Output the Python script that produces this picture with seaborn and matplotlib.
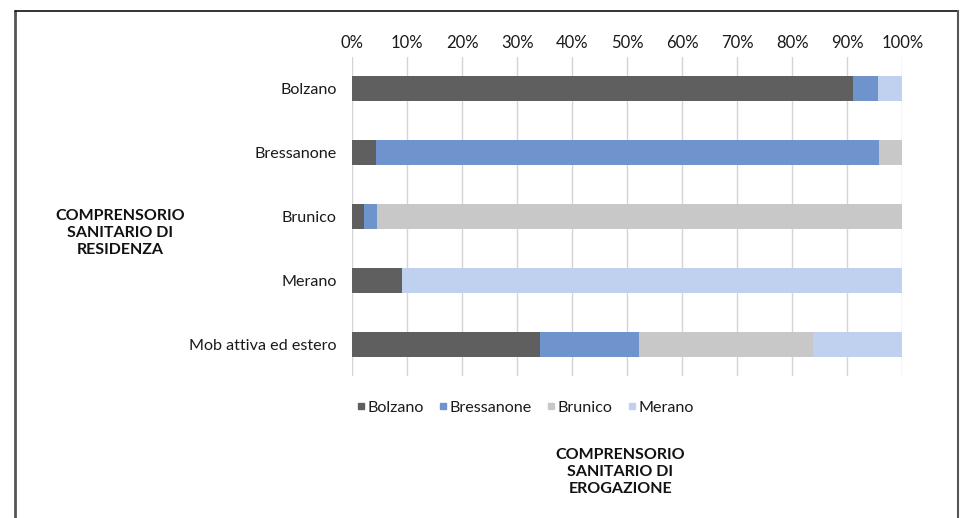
import numpy as np
import pandas as pd
import matplotlib
matplotlib.use("Agg")
import matplotlib.pyplot as plt
from matplotlib.lines import Line2D
import seaborn as sns

# Residence districts (rows) and delivery districts (stacked series), shares in %
residenza = ["Bolzano", "Bressanone", "Brunico", "Merano", "Mob attiva ed estero"]
erogazione = ["Bolzano", "Bressanone", "Brunico", "Merano"]
bolzano = [91.1, 4.4, 2.2, 9.0, 34.1]
bressanone = [4.5, 91.3, 2.3, 0.0, 18.1]
brunico = [0.0, 4.3, 95.5, 0.0, 31.5]
merano = [4.4, 0.0, 0.0, 91.0, 16.3]
colori = ["#5f5f5f", "#6f94cd", "#c8c8c8", "#bfd1ee"]
tick_vals = list(range(0, 101, 10))
tick_labels = [f"{v}%" for v in tick_vals]

sns.set_theme(style="white")
plt.rcParams["font.family"] = ["Lato", "DejaVu Sans"]

df = pd.DataFrame({"residenza": residenza, "Bolzano": bolzano,
                   "Bressanone": bressanone, "Brunico": brunico, "Merano": merano})
cum = df[erogazione].cumsum(axis=1)

fig = plt.figure(figsize=(9.62, 5.18), dpi=100)
ax = fig.add_axes([0.366, 0.274, 0.572, 0.616])

# Stacked bars: draw cumulative totals from the outermost series inwards
for serie, col in reversed(list(zip(erogazione, colori))):
    sns.barplot(x=cum[serie], y=df["residenza"], order=residenza, orient="h",
                color=col, saturation=1, width=0.39, ax=ax, zorder=3,
                linewidth=0, edgecolor=col)

ax.set_xlim(0, 100)
ax.set_ylim(4.5, -0.5)
ax.set_xticks(tick_vals)
ax.set_xticklabels(tick_labels)
ax.xaxis.tick_top()
ax.tick_params(axis="x", length=0, pad=4, labelsize=12, colors="#1a1a1a")
ax.tick_params(axis="y", length=0, pad=11, labelsize=11.6, colors="#1a1a1a")
ax.set_xlabel("")
ax.set_ylabel("")
ax.grid(axis="x", color="#d4d4d4", linewidth=1, zorder=0)
for s in ax.spines.values():
    s.set_visible(False)

# Legend
handles = [Line2D([0], [0], marker="s", linestyle="none", markersize=4.5,
                  markerfacecolor=c, markeredgecolor=c) for c in colori]
fig.legend(handles, erogazione, loc="center", bbox_to_anchor=(0.545, 0.213),
           ncol=4, frameon=False, handletextpad=0.0, columnspacing=0.8,
           handlelength=0.8, fontsize=11.6, labelcolor="#1a1a1a")

# Axis titles
fig.text(0.125, 0.55, "COMPRENSORIO\nSANITARIO DI\nRESIDENZA", ha="center", va="center",
         fontsize=11.5, fontweight="bold", linespacing=1.25, color="#111111")
fig.text(0.645, 0.089, "COMPRENSORIO\nSANITARIO DI\nEROGAZIONE", ha="center", va="center",
         fontsize=11.5, fontweight="bold", linespacing=1.25, color="#111111")

# Frame around the figure (left, top, right)
fig.add_artist(Line2D([0.0152, 0.0152], [0, 0.978], transform=fig.transFigure,
                      color="#555555", linewidth=2))
fig.add_artist(Line2D([0.0152, 0.996], [0.978, 0.978], transform=fig.transFigure,
                      color="#111111", linewidth=1.2))
fig.add_artist(Line2D([0.996, 0.996], [0, 0.978], transform=fig.transFigure,
                      color="#555555", linewidth=1.5))

fig.savefig("out.png", dpi=100)
